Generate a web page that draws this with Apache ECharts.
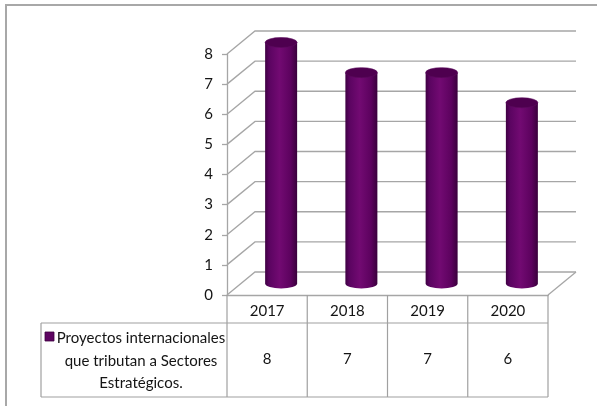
<!DOCTYPE html>
<html>
<head>
<meta charset="utf-8">
<script src="https://cdn.jsdelivr.net/npm/echarts@6/dist/echarts.min.js"></script>
<style>
  html, body { margin: 0; padding: 0; background: #fff; }
  #chart { width: 597px; height: 406px; }
</style>
</head>
<body>
<div id="chart"></div>
<script>
// Years shown along the category axis / header row of the data table
const years = ['2017', '2018', '2019', '2020'];
// Number of international projects per year
const proyectos = [8, 7, 7, 6];
// Value axis ticks
const yTicks = [0, 1, 2, 3, 4, 5, 6, 7, 8];
const seriesName = 'Proyectos internacionales\nque tributan a Sectores\nEstratégicos.';

const FONT = 'Lato, "Open Sans", sans-serif';
const FONT_SIZE = 15;
const LINE = '#a6a6a6';
const TABLE_LINE = '#a0a0a0';
const TEXT = '#141414';
// perspective offset of the back wall
const DX = 28, DY = 23;
const TABLE_BOTTOM = 397, ROW_SPLIT = 323, LEGEND_LEFT = 41;

const chart = echarts.init(document.getElementById('chart'), null, { renderer: 'canvas' });

// back wall grid lines, side wall diagonals and the floor
function renderWall(params, api) {
  const cs = params.coordSys;
  const v = api.value(0);
  const y = api.coord([0, v])[1];
  const x0 = cs.x, x1 = cs.x + cs.width;
  const children = [{
    type: 'polyline',
    shape: { points: [[x0, y], [x0 + DX, y - DY], [x1 + DX, y - DY]] },
    style: { stroke: LINE, lineWidth: 1.3, fill: null }
  }];
  if (v === 0) {
    children.push({
      type: 'line',
      shape: { x1: x1, y1: y, x2: x1 + DX, y2: y - DY },
      style: { stroke: LINE, lineWidth: 1.3 }
    });
  }
  return { type: 'group', children: children };
}

// cylinders standing in the middle of the floor depth
function renderCylinder(params, api) {
  const i = api.value(0);
  const v = api.value(1);
  const base = api.coord([i, 0]);
  const top = api.coord([i, v]);
  const cx = base[0] + DX / 2;
  const yb = base[1] - DY / 2;
  const yt = top[1] - DY / 2;
  const rx = 16, ry = 5;
  const body = 'M' + (cx - rx) + ' ' + yt +
    ' L' + (cx - rx) + ' ' + yb +
    ' A' + rx + ' ' + ry + ' 0 0 0 ' + (cx + rx) + ' ' + yb +
    ' L' + (cx + rx) + ' ' + yt + ' Z';
  const cap = 'M' + (cx - rx) + ' ' + yt +
    ' A' + rx + ' ' + ry + ' 0 0 1 ' + (cx + rx) + ' ' + yt +
    ' A' + rx + ' ' + ry + ' 0 0 1 ' + (cx - rx) + ' ' + yt + ' Z';
  return {
    type: 'group',
    children: [
      {
        type: 'path',
        shape: { pathData: body },
        style: {
          fill: {
            type: 'linear', x: 0, y: 0, x2: 1, y2: 0,
            colorStops: [
              { offset: 0, color: '#3e0042' },
              { offset: 0.12, color: '#5a0460' },
              { offset: 0.45, color: '#720a72' },
              { offset: 0.8, color: '#5c025e' },
              { offset: 1, color: '#3a003c' }
            ]
          },
          stroke: null
        }
      },
      {
        type: 'path',
        shape: { pathData: cap },
        style: { fill: '#4e004f', stroke: '#5a0a5c', lineWidth: 0.6 }
      }
    ]
  };
}

// data table: column borders and value cells
function renderTable(params, api) {
  const cs = params.coordSys;
  const i = api.value(0);
  const v = api.value(1);
  const c = api.coord([i, 0]);
  const colW = cs.width / years.length;
  const xr = c[0] + colW / 2;
  const yTop = cs.y + cs.height;
  const children = [
    {
      type: 'line',
      shape: { x1: xr, y1: yTop, x2: xr, y2: TABLE_BOTTOM },
      style: { stroke: TABLE_LINE, lineWidth: 1.2 }
    },
    {
      type: 'text',
      style: {
        x: c[0], y: (ROW_SPLIT + TABLE_BOTTOM) / 2 - 1,
        text: String(v), align: 'center', verticalAlign: 'middle',
        fill: TEXT, font: FONT_SIZE + 'px ' + FONT
      }
    }
  ];
  if (i === 0) {
    children.push({
      type: 'line',
      shape: { x1: cs.x, y1: yTop, x2: cs.x, y2: TABLE_BOTTOM },
      style: { stroke: TABLE_LINE, lineWidth: 1.2 }
    });
    children.push({
      type: 'line',
      shape: { x1: LEGEND_LEFT, y1: ROW_SPLIT, x2: cs.x + cs.width, y2: ROW_SPLIT },
      style: { stroke: TABLE_LINE, lineWidth: 1.2 }
    });
    children.push({
      type: 'line',
      shape: { x1: LEGEND_LEFT, y1: TABLE_BOTTOM, x2: cs.x + cs.width, y2: TABLE_BOTTOM },
      style: { stroke: TABLE_LINE, lineWidth: 1.2 }
    });
    children.push({
      type: 'line',
      shape: { x1: LEGEND_LEFT, y1: ROW_SPLIT, x2: LEGEND_LEFT, y2: TABLE_BOTTOM },
      style: { stroke: TABLE_LINE, lineWidth: 1.2 }
    });
  }
  return { type: 'group', children: children };
}

chart.setOption({
  backgroundColor: '#ffffff',
  animation: false,
  grid: { left: 227, right: 49, top: 54, bottom: 111, containLabel: false },
  xAxis: {
    type: 'category',
    data: years,
    axisLine: { show: true, lineStyle: { color: LINE, width: 1.3 } },
    axisTick: { show: false },
    axisLabel: { margin: 9, color: TEXT, fontSize: FONT_SIZE, fontFamily: FONT },
    splitLine: { show: false }
  },
  yAxis: {
    type: 'value',
    min: 0, max: 8, interval: 1,
    axisLine: { show: true, lineStyle: { color: LINE, width: 1.3 } },
    axisTick: { show: true, length: 5, lineStyle: { color: LINE, width: 1.3 } },
    axisLabel: { margin: 14, color: TEXT, fontSize: FONT_SIZE, fontFamily: FONT },
    splitLine: { show: false }
  },
  graphic: [
    {
      type: 'polyline',
      shape: { points: [[6, 406], [6, 5], [597, 5]] },
      style: { stroke: '#a8a8a8', lineWidth: 2, fill: null },
      silent: true
    },
    {
      type: 'rect',
      shape: { x: 45, y: 332, width: 9, height: 9 },
      style: { fill: '#5e0462', stroke: '#3c003f', lineWidth: 0.8 }
    },
    {
      type: 'text',
      x: 141, y: 327,
      style: {
        text: seriesName, align: 'center', verticalAlign: 'top',
        fill: TEXT, font: FONT_SIZE + 'px ' + FONT, lineHeight: 22.5
      }
    }
  ],
  series: [
    {
      type: 'custom',
      name: 'wall',
      renderItem: renderWall,
      data: yTicks.map(function (t) { return [t]; }),
      encode: { y: 0 },
      silent: true,
      z: 1
    },
    {
      type: 'custom',
      name: seriesName,
      renderItem: renderCylinder,
      data: proyectos.map(function (v, i) { return [i, v]; }),
      encode: { x: 0, y: 1 },
      z: 3
    },
    {
      type: 'custom',
      name: 'tabla',
      renderItem: renderTable,
      data: proyectos.map(function (v, i) { return [i, v]; }),
      encode: { x: 0, y: 1 },
      clip: false,
      z: 2
    }
  ]
});
</script>
</body>
</html>
